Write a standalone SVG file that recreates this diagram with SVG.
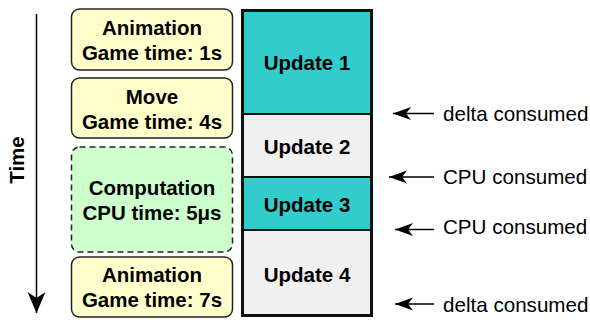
<svg xmlns="http://www.w3.org/2000/svg" width="590" height="320" viewBox="0 0 590 320">
<style>
.b{font-family:"Liberation Sans",Arial,sans-serif;font-weight:bold;font-size:20.5px;fill:#000;text-anchor:middle}
.r{font-family:"Liberation Sans",Arial,sans-serif;font-size:20.6px;fill:#000}
.y{fill:#FFFFCC;stroke:#222;stroke-width:1.5}
.g{fill:#CCFFCC;stroke:#222;stroke-width:1.5;stroke-dasharray:6 4}
.t{fill:#33CCCC;stroke:#111;stroke-width:2}
.l{fill:#F0F0F0;stroke:#111;stroke-width:2}
.c{stroke:#000;stroke-width:1.5;fill:none}
</style>
<defs>
<marker id="ah" viewBox="-19 -7 20 14" markerWidth="20" markerHeight="14" refX="0" refY="0" orient="auto" markerUnits="userSpaceOnUse">
<path d="M0,0 L-18,-6.5 L-13,0 L-18,6.5 Z" fill="#000"/>
</marker>
<marker id="ahb" viewBox="-23 -10 24 20" markerWidth="24" markerHeight="20" refX="0" refY="0" orient="auto" markerUnits="userSpaceOnUse">
<path d="M0,0 L-21,-9 L-15,0 L-21,9 Z" fill="#000"/>
</marker>
</defs>
<g id="time-axis">
<line class="c" x1="36.5" y1="14" x2="36.5" y2="313" marker-end="url(#ahb)"/>
<text class="b" transform="translate(24,160) rotate(-90)" x="0" y="0">Time</text>
</g>
<g id="n-animation1">
<rect class="y" x="71.5" y="9" width="161" height="61" rx="8"/>
<text class="b" x="152" y="35">Animation</text>
<text class="b" x="152" y="60">Game time: 1s</text>
</g>
<g id="n-move">
<rect class="y" x="71.5" y="78" width="161" height="60" rx="8"/>
<text class="b" x="152" y="103.5">Move</text>
<text class="b" x="152" y="128.5">Game time: 4s</text>
</g>
<g id="n-computation">
<rect class="g" x="71.5" y="147" width="161" height="105" rx="8"/>
<text class="b" x="152" y="195">Computation</text>
<text class="b" x="152" y="220">CPU time: 5μs</text>
</g>
<g id="n-animation2">
<rect class="y" x="71.5" y="257" width="161" height="60" rx="8"/>
<text class="b" x="152" y="282">Animation</text>
<text class="b" x="152" y="307">Game time: 7s</text>
</g>
<g id="n-update1">
<rect class="t" x="242.5" y="10.5" width="129" height="103.5"/>
<text class="b" x="307" y="70">Update 1</text>
</g>
<g id="n-update2">
<rect class="l" x="242.5" y="114" width="129" height="63"/>
<text class="b" x="307" y="153.5">Update 2</text>
</g>
<g id="n-update3">
<rect class="t" x="242.5" y="177" width="129" height="53"/>
<text class="b" x="307" y="211.5">Update 3</text>
</g>
<g id="n-update4">
<rect class="l" x="242.5" y="230" width="129" height="85.5"/>
<text class="b" x="307" y="281.5">Update 4</text>
</g>
<rect x="242.5" y="10.5" width="129" height="305" fill="none" stroke="#111" stroke-width="3"/>
<g id="connectors">
<line class="c" x1="434" y1="113.5" x2="393" y2="113.5" marker-end="url(#ah)"/>
<line class="c" x1="434" y1="177" x2="389" y2="177" marker-end="url(#ah)"/>
<line class="c" x1="434" y1="229.5" x2="395" y2="229.5" marker-end="url(#ah)"/>
<line class="c" x1="434" y1="304" x2="395" y2="304" marker-end="url(#ah)"/>
</g>
<g id="labels">
<text class="r" x="443" y="120.5">delta consumed</text>
<text class="r" x="443" y="184">CPU consumed</text>
<text class="r" x="443" y="234">CPU consumed</text>
<text class="r" x="443" y="311.5">delta consumed</text>
</g>
</svg>
